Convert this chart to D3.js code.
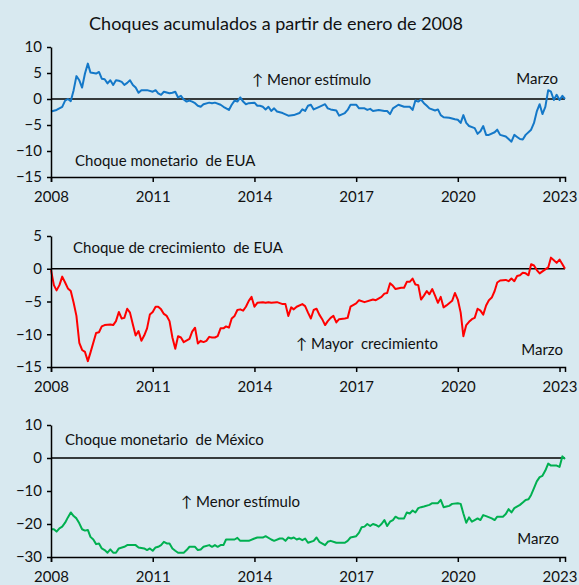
<!DOCTYPE html>
<html>
<head>
<meta charset="utf-8">
<script src="https://cdn.jsdelivr.net/npm/d3@7"></script>
<style>
  body { margin: 0; background: #d8e9f0; }
  svg { display: block; background: #d8e9f0; }
  text { font-family: Lato, "Noto Sans", sans-serif; fill: #111; }
</style>
</head>
<body>
<svg id="chart" width="579" height="585"></svg>
<script>
// Choque monetario de EUA
var usMonDates = ["2008-01","2008-03","2008-05","2008-06","2008-07","2008-08","2008-09","2008-10","2008-11","2008-12",
  "2009-01","2009-02","2009-03","2009-04","2009-05","2009-06","2009-07","2009-08","2009-09","2009-10","2009-11","2009-12",
  "2010-01","2010-02","2010-03","2010-04","2010-05","2010-06","2010-07","2010-08","2010-09","2010-11",
  "2011-01","2011-02","2011-03","2011-04","2011-05","2011-07","2011-08","2011-09","2011-10","2011-11","2011-12",
  "2012-01","2012-02","2012-03","2012-04","2012-05","2012-06","2012-07","2012-09","2012-10","2012-11",
  "2013-01","2013-02","2013-04","2013-05","2013-06","2013-07","2013-08","2013-09","2013-10","2013-11",
  "2014-01","2014-02","2014-03","2014-04","2014-05","2014-06","2014-07","2014-08","2014-09","2014-11",
  "2015-01","2015-03","2015-05","2015-06","2015-07","2015-08","2015-09","2015-10","2015-12",
  "2016-02","2016-03","2016-04","2016-06","2016-07","2016-09","2016-10","2016-11",
  "2017-01","2017-02","2017-04","2017-05","2017-06","2017-07","2017-09","2017-11","2017-12",
  "2018-01","2018-02","2018-04","2018-06","2018-08","2018-09","2018-10","2018-11","2018-12",
  "2019-01","2019-02","2019-03","2019-05","2019-06","2019-07","2019-08","2019-10","2019-12",
  "2020-01","2020-02","2020-03","2020-04","2020-05","2020-07","2020-08","2020-09","2020-10","2020-11","2020-12",
  "2021-02","2021-03","2021-04","2021-06","2021-07","2021-08","2021-09","2021-10","2021-11","2021-12",
  "2022-01","2022-03","2022-04","2022-05","2022-06","2022-07","2022-08","2022-09","2022-10","2022-11","2022-12",
  "2023-01","2023-02","2023-03"];
var usMonValues = [-2.4,-2.1,-1.5,-0.3,0.0,-0.4,1.7,4.4,3.6,2.2,
  4.9,6.8,5.1,5.0,4.9,5.2,3.9,3.8,3.0,3.6,2.7,3.6,
  3.5,3.3,2.7,3.1,3.6,2.7,2.2,1.2,1.7,1.7,
  1.4,1.7,1.1,0.8,1.4,1.1,1.2,1.4,0.3,0.6,-0.1,
  -0.5,-0.3,-0.5,-0.8,-1.3,-1.5,-1.0,-0.7,-0.8,-0.7,
  -1.1,-1.5,-2.1,-1.1,-0.3,-0.5,0.3,-0.5,-1.0,-0.8,
  -0.7,-1.3,-1.3,-1.5,-2.0,-1.5,-2.3,-1.8,-2.4,-2.7,
  -3.2,-3.1,-2.7,-2.0,-2.3,-1.3,-1.1,-2.0,-1.5,
  -1.0,-1.8,-2.0,-2.2,-3.2,-2.7,-2.1,-1.1,
  -1.1,-1.8,-1.8,-2.1,-1.9,-2.3,-2.1,-2.3,-2.3,
  -2.9,-1.8,-1.1,-1.5,-1.5,-2.1,-0.3,-0.5,-0.1,
  -0.8,-1.3,-1.8,-2.2,-2.0,-3.1,-3.5,-3.6,-3.9,
  -4.0,-4.6,-3.1,-4.6,-5.2,-5.6,-6.7,-6.2,-5.2,-6.9,-6.9,
  -6.4,-5.9,-6.9,-7.2,-7.7,-8.2,-6.9,-7.3,-7.7,-7.8,
  -6.9,-5.9,-4.6,-2.4,-1.0,-2.9,-1.5,1.7,1.4,-0.2,0.8,
  -0.2,0.6,0.0];

// Choque de crecimiento de EUA
var usGrowDates = ["2008-01","2008-02","2008-03","2008-04","2008-05","2008-06","2008-07","2008-08","2008-09","2008-10","2008-11","2008-12",
  "2009-01","2009-02","2009-03","2009-05","2009-06","2009-07","2009-08","2009-10","2009-11","2009-12",
  "2010-01","2010-02","2010-03","2010-04","2010-05","2010-06","2010-07","2010-08","2010-09","2010-10","2010-11","2010-12",
  "2011-01","2011-02","2011-03","2011-04","2011-05","2011-06","2011-07","2011-08","2011-09","2011-10","2011-11","2011-12",
  "2012-02","2012-03","2012-04","2012-05","2012-06","2012-07","2012-08","2012-09","2012-10","2012-11","2012-12",
  "2013-01","2013-02","2013-03","2013-04","2013-05","2013-06","2013-07","2013-08","2013-09","2013-10","2013-11","2013-12",
  "2014-01","2014-02","2014-04","2014-05","2014-06","2014-07","2014-09","2014-11","2014-12",
  "2015-01","2015-02","2015-03","2015-04","2015-06","2015-07","2015-08","2015-09","2015-10","2015-11","2015-12",
  "2016-01","2016-02","2016-03","2016-04","2016-05","2016-06","2016-07","2016-09","2016-10","2016-11",
  "2017-01","2017-02","2017-04","2017-07","2017-08","2017-10","2017-11","2017-12",
  "2018-01","2018-02","2018-03","2018-05","2018-06","2018-07","2018-08","2018-09","2018-10","2018-11","2018-12",
  "2019-01","2019-02","2019-03","2019-04","2019-05","2019-06","2019-07","2019-08","2019-09","2019-11","2019-12",
  "2020-01","2020-02","2020-03","2020-04","2020-05","2020-06","2020-07","2020-08","2020-09","2020-10","2020-11","2020-12",
  "2021-01","2021-02","2021-03","2021-04","2021-06","2021-07","2021-08","2021-09","2021-10","2021-11","2021-12",
  "2022-01","2022-02","2022-03","2022-04","2022-05","2022-06","2022-07","2022-09","2022-10","2022-11","2022-12",
  "2023-01","2023-02","2023-03"];
var usGrowValues = [-0.2,-2.5,-3.3,-2.5,-1.2,-2.1,-3.0,-3.4,-5.2,-7.2,-11.3,-12.4,
  -12.7,-14.1,-12.8,-9.8,-9.7,-8.8,-8.6,-8.5,-8.6,-8.0,
  -6.6,-7.6,-7.5,-6.1,-6.7,-8.5,-10.2,-9.5,-11.0,-10.2,-9.1,-7.0,
  -6.6,-5.8,-5.8,-6.2,-6.9,-7.2,-8.0,-10.5,-12.2,-10.3,-10.5,-11.2,
  -10.7,-9.6,-9.0,-11.4,-11.0,-11.2,-11.0,-10.4,-10.5,-10.5,-10.3,
  -9.1,-9.1,-8.8,-9.0,-7.6,-7.2,-6.3,-6.2,-6.4,-5.8,-4.9,-4.3,
  -5.8,-5.2,-5.1,-5.2,-5.1,-5.2,-5.1,-5.4,-5.4,
  -7.2,-5.9,-6.2,-5.8,-5.4,-5.7,-6.7,-7.6,-6.3,-6.1,-7.0,
  -7.7,-8.6,-8.0,-7.5,-7.2,-8.2,-7.7,-7.6,-7.5,-5.8,
  -5.3,-4.8,-5.1,-4.7,-4.8,-4.3,-3.8,-3.7,
  -2.2,-2.6,-3.1,-2.9,-2.9,-2.0,-2.0,-1.5,-2.4,-2.5,-4.7,
  -4.1,-3.4,-3.9,-3.1,-4.1,-5.2,-4.3,-5.9,-5.6,-4.9,-3.7,
  -4.7,-6.7,-10.3,-8.6,-8.1,-7.7,-7.5,-6.1,-6.4,-7.0,-5.6,-4.8,
  -4.4,-3.4,-2.1,-1.8,-1.7,-1.9,-1.5,-1.9,-1.1,-1.0,-0.6,
  -0.7,-1.0,0.7,0.5,-0.2,-0.7,-0.4,0.2,1.7,1.3,0.9,
  1.4,0.7,0.0];

// Choque monetario de México
var mxMonDates = ["2008-01","2008-02","2008-03","2008-04","2008-05","2008-06","2008-07","2008-08","2008-09","2008-10","2008-11","2008-12",
  "2009-01","2009-02","2009-03","2009-04","2009-05","2009-06","2009-07","2009-08","2009-09","2009-10","2009-11","2009-12",
  "2010-01","2010-03","2010-04","2010-06","2010-07","2010-08","2010-10","2010-11","2010-12",
  "2011-01","2011-02","2011-03","2011-04","2011-05","2011-06","2011-07","2011-08","2011-09","2011-10","2011-12",
  "2012-01","2012-02","2012-04","2012-05","2012-06","2012-07","2012-09","2012-10","2012-11","2012-12",
  "2013-01","2013-02","2013-03","2013-04","2013-06","2013-07","2013-08","2013-10","2013-11",
  "2014-01","2014-02","2014-04","2014-05","2014-07","2014-08","2014-10","2014-11","2014-12",
  "2015-01","2015-02","2015-03","2015-04","2015-05","2015-06","2015-07","2015-08","2015-10","2015-11","2015-12",
  "2016-02","2016-03","2016-04","2016-06","2016-07","2016-09","2016-10","2016-11",
  "2017-01","2017-02","2017-03","2017-04","2017-05","2017-06","2017-07","2017-08","2017-09","2017-10","2017-11","2017-12",
  "2018-01","2018-02","2018-03","2018-04","2018-06","2018-07","2018-08","2018-09","2018-10","2018-11","2018-12",
  "2019-01","2019-03","2019-04","2019-06","2019-07","2019-08","2019-09","2019-10","2019-11",
  "2020-01","2020-02","2020-03","2020-04","2020-05","2020-06","2020-07","2020-08","2020-09","2020-10","2020-11",
  "2021-01","2021-02","2021-03","2021-05","2021-06","2021-07","2021-08","2021-09","2021-11","2021-12",
  "2022-01","2022-02","2022-03","2022-04","2022-05","2022-06","2022-07","2022-08","2022-09","2022-10","2022-11","2022-12",
  "2023-01","2023-02","2023-03"];
var mxMonValues = [-21.6,-21.6,-22.3,-21.3,-20.8,-19.6,-18.0,-16.5,-17.6,-18.3,-19.8,-21.6,
  -22.0,-21.8,-23.9,-24.7,-26.1,-25.9,-27.4,-27.9,-28.7,-27.7,-28.7,-28.7,
  -27.4,-26.9,-26.4,-26.4,-26.4,-27.1,-27.4,-27.9,-27.4,
  -28.1,-27.1,-26.9,-26.4,-25.4,-25.9,-25.9,-27.4,-28.1,-28.7,-28.7,
  -27.9,-26.9,-26.9,-27.9,-27.7,-26.9,-26.4,-26.9,-26.4,-26.9,
  -26.4,-26.4,-24.7,-24.7,-24.7,-24.2,-25.1,-25.1,-25.1,
  -24.4,-24.1,-24.1,-23.7,-24.7,-25.1,-24.4,-24.4,-25.1,
  -24.1,-24.4,-24.1,-24.7,-24.4,-24.9,-24.4,-25.7,-25.1,-24.1,-25.4,
  -26.4,-25.4,-25.1,-25.7,-25.7,-25.7,-25.1,-24.1,
  -23.7,-22.6,-21.0,-20.8,-20.0,-20.6,-20.0,-20.3,-20.8,-20.0,-18.8,-20.6,
  -19.3,-18.8,-17.8,-18.3,-18.3,-16.5,-16.8,-15.9,-16.5,-15.2,-14.9,
  -14.7,-14.2,-13.7,-13.7,-12.7,-14.9,-14.7,-14.5,-13.9,
  -13.7,-13.9,-16.8,-19.6,-18.0,-19.3,-18.8,-18.3,-18.8,-17.3,-17.6,
  -18.3,-18.8,-17.8,-17.8,-17.0,-15.5,-16.5,-15.2,-14.2,-13.5,
  -12.7,-12.5,-11.2,-9.1,-7.1,-5.8,-5.4,-3.8,-1.7,-2.3,-2.3,-2.3,
  -2.7,0.5,-0.3];

var tickYears = [2008, 2011, 2014, 2017, 2020, 2023];

var width = 579;
var height = 585;
var xLeft = 51;
var xRight = 565;

var parse = d3.timeParse("%Y-%m");

var panels = [
  {
    dates: usMonDates, values: usMonValues, color: "#1478c8",
    domain: [-15, 10], ticks: [-15, -10, -5, 0, 5, 10], top: 47, bottom: 177,
    notes: [
      { text: "\u2191 Menor estímulo", x: 252, y: 85, anchor: "start" },
      { text: "Marzo", x: 558, y: 84, anchor: "end" },
      { text: "Choque monetario  de EUA", x: 75, y: 166, anchor: "start" }
    ]
  },
  {
    dates: usGrowDates, values: usGrowValues, color: "#ff0000",
    domain: [-15, 5], ticks: [-15, -10, -5, 0, 5], top: 236, bottom: 367,
    notes: [
      { text: "Choque de crecimiento  de EUA", x: 73, y: 253, anchor: "start" },
      { text: "\u2191 Mayor  crecimiento", x: 296, y: 349, anchor: "start" },
      { text: "Marzo", x: 563, y: 355, anchor: "end" }
    ]
  },
  {
    dates: mxMonDates, values: mxMonValues, color: "#00b050",
    domain: [-30, 10], ticks: [-30, -20, -10, 0, 10], top: 425, bottom: 557,
    notes: [
      { text: "Choque monetario  de México", x: 65, y: 445, anchor: "start" },
      { text: "\u2191 Menor estímulo", x: 181, y: 507, anchor: "start" },
      { text: "Marzo", x: 559, y: 544, anchor: "end" }
    ]
  }
];

var svg = d3.select("#chart");

svg.append("text")
  .attr("x", 276)
  .attr("y", 30)
  .attr("text-anchor", "middle")
  .attr("font-size", 18)
  .text("Choques acumulados a partir de enero de 2008");

var x = d3.scaleTime()
  .domain([parse("2008-01"), parse("2023-03")])
  .range([xLeft, xRight]);

panels.forEach(p => {
  var y = d3.scaleLinear().domain(p.domain).range([p.bottom, p.top]);
  var g = svg.append("g");

  // zero line
  g.append("line")
    .attr("x1", xLeft).attr("x2", xRight)
    .attr("y1", y(0)).attr("y2", y(0))
    .attr("stroke", "#000")
    .attr("stroke-width", 1.5);

  var series = p.dates.map((d, i) => ({ date: parse(d), value: p.values[i] }));

  g.append("path")
    .datum(series)
    .attr("fill", "none")
    .attr("stroke", p.color)
    .attr("stroke-width", 2)
    .attr("stroke-linejoin", "round")
    .attr("d", d3.line().x(d => x(d.date)).y(d => y(d.value)));

  var yAxis = g.append("g")
    .attr("transform", "translate(" + xLeft + ",0)")
    .call(d3.axisLeft(y).tickValues(p.ticks).tickSize(4).tickSizeOuter(0).tickPadding(5));

  var xAxis = g.append("g")
    .attr("transform", "translate(0," + p.bottom + ")")
    .call(d3.axisBottom(x)
      .tickValues(tickYears.map(t => new Date(t, 0, 1)))
      .tickFormat(d3.timeFormat("%Y"))
      .tickSize(5).tickSizeOuter(5).tickPadding(9));

  [yAxis, xAxis].forEach(a => {
    a.select(".domain").attr("stroke", "#000").attr("stroke-width", 1.5);
    a.selectAll(".tick line").attr("stroke", "#000").attr("stroke-width", 1.5);
    a.selectAll(".tick text")
      .attr("font-family", "Lato, 'Noto Sans', sans-serif")
      .attr("font-size", 15)
      .attr("fill", "#111");
  });

  g.selectAll(".note")
    .data(p.notes)
    .enter()
    .append("text")
    .attr("class", "note")
    .attr("x", d => d.x)
    .attr("y", d => d.y)
    .attr("text-anchor", d => d.anchor)
    .attr("font-size", 15)
    .attr("xml:space", "preserve")
    .style("white-space", "pre")
    .text(d => d.text);
});
</script>
</body>
</html>
